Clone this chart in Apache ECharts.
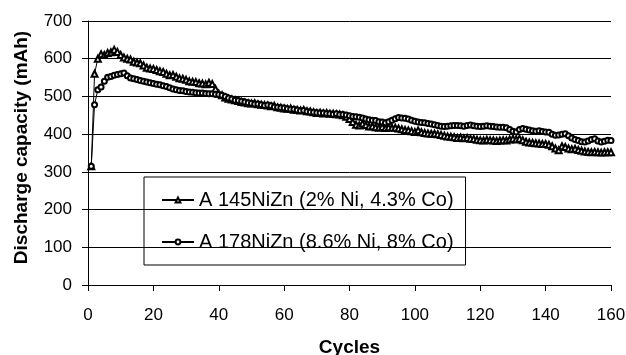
<!DOCTYPE html>
<html>
<head>
<meta charset="utf-8">
<script src="https://cdn.jsdelivr.net/npm/echarts@6/dist/echarts.min.js"></script>
<style>
  html, body { margin: 0; padding: 0; background: #fff; }
  #chart { width: 626px; height: 355px; }
</style>
</head>
<body>
<div id="chart"></div>
<script>
// cycle numbers 1..160
const cycles = [
  1, 2, 3, 4, 5, 6, 7, 8, 9, 10, 11, 12, 13, 14, 15, 16, 17, 18, 19, 20,
  21, 22, 23, 24, 25, 26, 27, 28, 29, 30, 31, 32, 33, 34, 35, 36, 37, 38, 39, 40,
  41, 42, 43, 44, 45, 46, 47, 48, 49, 50, 51, 52, 53, 54, 55, 56, 57, 58, 59, 60,
  61, 62, 63, 64, 65, 66, 67, 68, 69, 70, 71, 72, 73, 74, 75, 76, 77, 78, 79, 80,
  81, 82, 83, 84, 85, 86, 87, 88, 89, 90, 91, 92, 93, 94, 95, 96, 97, 98, 99, 100,
  101, 102, 103, 104, 105, 106, 107, 108, 109, 110, 111, 112, 113, 114, 115, 116, 117, 118, 119, 120,
  121, 122, 123, 124, 125, 126, 127, 128, 129, 130, 131, 132, 133, 134, 135, 136, 137, 138, 139, 140,
  141, 142, 143, 144, 145, 146, 147, 148, 149, 150, 151, 152, 153, 154, 155, 156, 157, 158, 159, 160
];

// A 145NiZn (2% Ni, 4.3% Co)
const capA145 = [
  315, 560, 600, 612, 610, 615, 617, 624, 618, 610, 603, 600, 598, 592, 590, 588, 582, 576, 574, 573,
  570, 567, 565, 560, 556, 557, 552, 548, 547, 544, 540, 539, 538, 535, 534, 532, 536, 533, 520, 507,
  503, 497, 494, 492, 490, 488, 485, 484, 482, 481, 482, 479, 478, 477, 476, 474, 475, 471, 470, 468,
  467, 468, 465, 464, 463, 464, 461, 460, 458, 456, 457, 455, 456, 454, 454, 453, 452, 450, 446, 440,
  432, 425, 423, 428, 424, 420, 421, 418, 417, 419, 416, 418, 417, 417, 415, 413, 411, 410, 408, 406,
  410, 405, 403, 402, 401, 401, 400, 398, 396, 394, 393, 392, 390, 391, 389, 390, 388, 387, 385, 384,
  383, 385, 384, 383, 382, 383, 384, 383, 386, 388, 386, 388, 384, 380, 378, 377, 376, 375, 374, 374,
  372, 368, 362, 357, 368, 366, 362, 360, 361, 358, 356, 354, 353, 352, 353, 352, 351, 352, 352, 352
];

// A 178NiZn (8.6% Ni, 8% Co)
const capA178 = [
  315, 478, 518, 525, 540, 551, 553, 556, 558, 560, 562, 555, 549, 547, 545, 542, 540, 538, 536, 534,
  532, 531, 528, 526, 523, 520, 518, 516, 515, 513, 512, 511, 510, 509, 509, 508, 507, 507, 506, 505,
  503, 500, 496, 493, 490, 489, 487, 485, 483, 482, 480, 480, 478, 476, 477, 475, 472, 471, 470, 469,
  467, 466, 466, 464, 462, 463, 460, 459, 458, 457, 456, 456, 455, 454, 453, 454, 452, 452, 451, 449,
  447, 446, 445, 443, 440, 438, 437, 436, 433, 432, 430, 433, 437, 441, 444, 443, 442, 440, 437, 434,
  432, 431, 430, 428, 427, 425, 423, 421, 420, 421, 422, 423, 423, 422, 421, 423, 424, 422, 421, 420,
  421, 422, 421, 420, 419, 418, 418, 417, 412, 408, 406, 412, 415, 413, 411, 409, 408, 409, 407, 406,
  405, 400, 397, 398, 400, 401, 396, 390, 386, 383, 380, 379, 382, 386, 388, 382, 379, 381, 384, 383
];

const seriesNames = ["A 145NiZn (2% Ni, 4.3% Co)", "A 178NiZn (8.6% Ni, 8% Co)"];

const font = "'Liberation Sans', Arial, sans-serif";

function pairs(xs, ys) {
  return xs.map((x, i) => [x, ys[i]]);
}

let myChart = echarts.init(document.getElementById("chart"));
myChart.setOption({
  animation: false,
  backgroundColor: "#fff",
  grid: {
    left: 88,
    right: 15,
    top: 21,
    bottom: 70,
    containLabel: false,
    outerBoundsMode: "none" // keep the plot where the reference has it
  },
  legend: {
    orient: "vertical",
    left: 144,
    top: 177,
    data: seriesNames,
    borderColor: "#000",
    borderWidth: 1,
    padding: [13, 12, 13, 17],
    itemGap: 22,
    itemWidth: 32,
    itemHeight: 6,
    textStyle: {
      fontFamily: font,
      fontSize: 20,
      color: "#000"
    }
  },
  xAxis: {
    type: "value",
    min: 0,
    max: 160,
    interval: 20,
    name: "Cycles",
    nameLocation: "middle",
    nameGap: 53,
    nameTextStyle: {
      fontFamily: font,
      fontSize: 19,
      fontWeight: "bold",
      color: "#000"
    },
    axisLine: { lineStyle: { color: "#000", width: 1 } },
    axisTick: { show: true, length: 6, lineStyle: { color: "#000" } },
    axisLabel: {
      margin: 22,
      fontFamily: font,
      fontSize: 17,
      color: "#000"
    },
    splitLine: { show: false }
  },
  yAxis: {
    type: "value",
    min: 0,
    max: 700,
    interval: 100,
    name: "Discharge capacity (mAh)",
    nameLocation: "middle",
    nameGap: 57,
    nameTextStyle: {
      fontFamily: font,
      fontSize: 19,
      fontWeight: "bold",
      color: "#000",
      padding: [0, 0, 0, 11] // nudges the rotated title up a little
    },
    axisLine: { show: true, lineStyle: { color: "#000", width: 1 } },
    axisTick: { show: true, length: 6, lineStyle: { color: "#000" } },
    axisLabel: {
      margin: 16,
      fontFamily: font,
      fontSize: 17,
      color: "#000"
    },
    splitLine: { show: true, lineStyle: { color: "#000", width: 1 } }
  },
  series: [
    {
      name: seriesNames[0],
      type: "line",
      data: pairs(cycles, capA145),
      symbol: "emptyTriangle",
      symbolSize: 6,
      lineStyle: { color: "#000", width: 1 },
      itemStyle: { color: "#000", borderColor: "#000", borderWidth: 1 }
    },
    {
      name: seriesNames[1],
      type: "line",
      data: pairs(cycles, capA178),
      symbol: "emptyCircle",
      symbolSize: 5,
      lineStyle: { color: "#000", width: 1 },
      itemStyle: { color: "#000", borderColor: "#000", borderWidth: 1 }
    }
  ]
});
</script>
</body>
</html>
